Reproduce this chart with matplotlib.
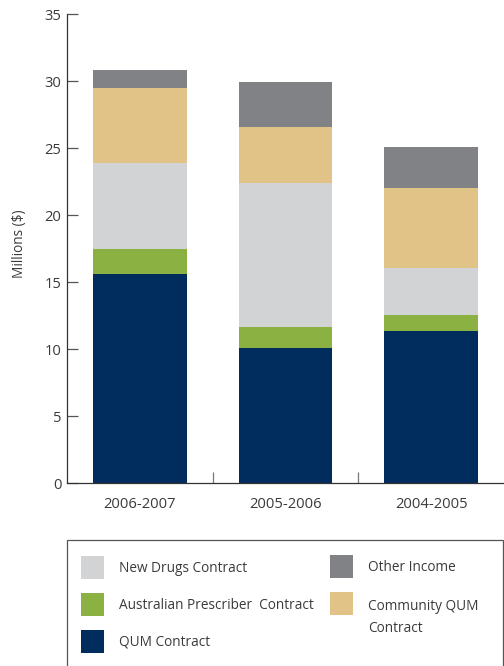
import numpy as np
import matplotlib
matplotlib.use("Agg")
import matplotlib.pyplot as plt
from matplotlib.patches import Rectangle

plt.rcParams['font.family'] = ['Open Sans', 'DejaVu Sans']

# Income by year (millions of dollars)
years = ['2006-2007', '2005-2006', '2004-2005']
qum_contract = [15.6, 10.09, 11.36]
australian_prescriber = [1.87, 1.57, 1.19]
new_drugs = [6.41, 10.73, 3.51]
community_qum = [5.6, 4.18, 5.96]
other_income = [1.34, 3.36, 3.06]

series = [
    ('QUM Contract', qum_contract, '#002d5e'),
    ('Australian Prescriber  Contract', australian_prescriber, '#8ab141'),
    ('New Drugs Contract', new_drugs, '#d2d3d5'),
    ('Community QUM\nContract', community_qum, '#e1c387'),
    ('Other Income', other_income, '#818285'),
]

W, H = 504, 666
fig = plt.figure(figsize=(W / 100, H / 100), dpi=100)
ax = fig.add_axes([67 / W, 1 - 483.3 / H, 437 / W, (483.3 - 14) / H])

txt_col = '#3a3a3a'
fs = 9.8        # legend / axis label
fs_tick = 10.6  # tick labels

x = np.arange(len(years))
bottom = np.zeros(len(years))
for name, vals, col in series:
    ax.bar(x, vals, width=0.645, bottom=bottom, color=col, linewidth=0, zorder=2)
    bottom += np.array(vals)

ax.set_xlim(-0.5, 2.5)
ax.set_ylim(0, 35)
ax.set_yticks(np.arange(0, 36, 5))
ax.set_xticks(x)
ax.set_xticklabels(years)
ax.set_xticks([0.5, 1.5], minor=True)

ax.tick_params(axis='y', direction='in', length=8, width=0.9, color='#555555',
               labelsize=fs_tick, labelcolor=txt_col, pad=4)
ax.tick_params(axis='x', which='major', length=0, labelsize=fs_tick, labelcolor=txt_col, pad=10)
ax.tick_params(axis='x', which='minor', direction='in', length=8, width=0.9, color='#777777')

for s in ['top', 'right']:
    ax.spines[s].set_visible(False)
for s in ['left', 'bottom']:
    ax.spines[s].set_color('#333333')
    ax.spines[s].set_linewidth(0.9)

ax.set_ylabel('Millions ($)', fontsize=fs, color=txt_col)
ax.yaxis.set_label_coords(-0.092, 0.51)


def fx(px):
    return px / W


def fy(py):
    return 1 - py / H


# legend box, open at the bottom edge of the figure
fig.patches.append(Rectangle((fx(67), fy(680)), fx(503) - fx(67), fy(540) - fy(680),
                             transform=fig.transFigure, fill=False,
                             edgecolor='#555555', linewidth=0.9))

colors = {name: col for name, vals, col in series}
legend_items = [
    ('New Drugs Contract', 81, 556),
    ('Australian Prescriber  Contract', 81, 593),
    ('QUM Contract', 81, 630),
    ('Other Income', 330, 555),
    ('Community QUM\nContract', 330, 592),
]
for name, px, py in legend_items:
    fig.patches.append(Rectangle((fx(px), fy(py + 23)), 23 / W, 23 / H,
                                 transform=fig.transFigure, color=colors[name], linewidth=0))
    if '\n' in name:
        fig.text(fx(px + 38), fy(py + 11.5 - 5), name, fontsize=fs, color=txt_col,
                 va='top', ha='left', linespacing=1.65)
    else:
        fig.text(fx(px + 38), fy(py + 12.5), name, fontsize=fs, color=txt_col,
                 va='center', ha='left')

fig.savefig('out.png', dpi=100)
